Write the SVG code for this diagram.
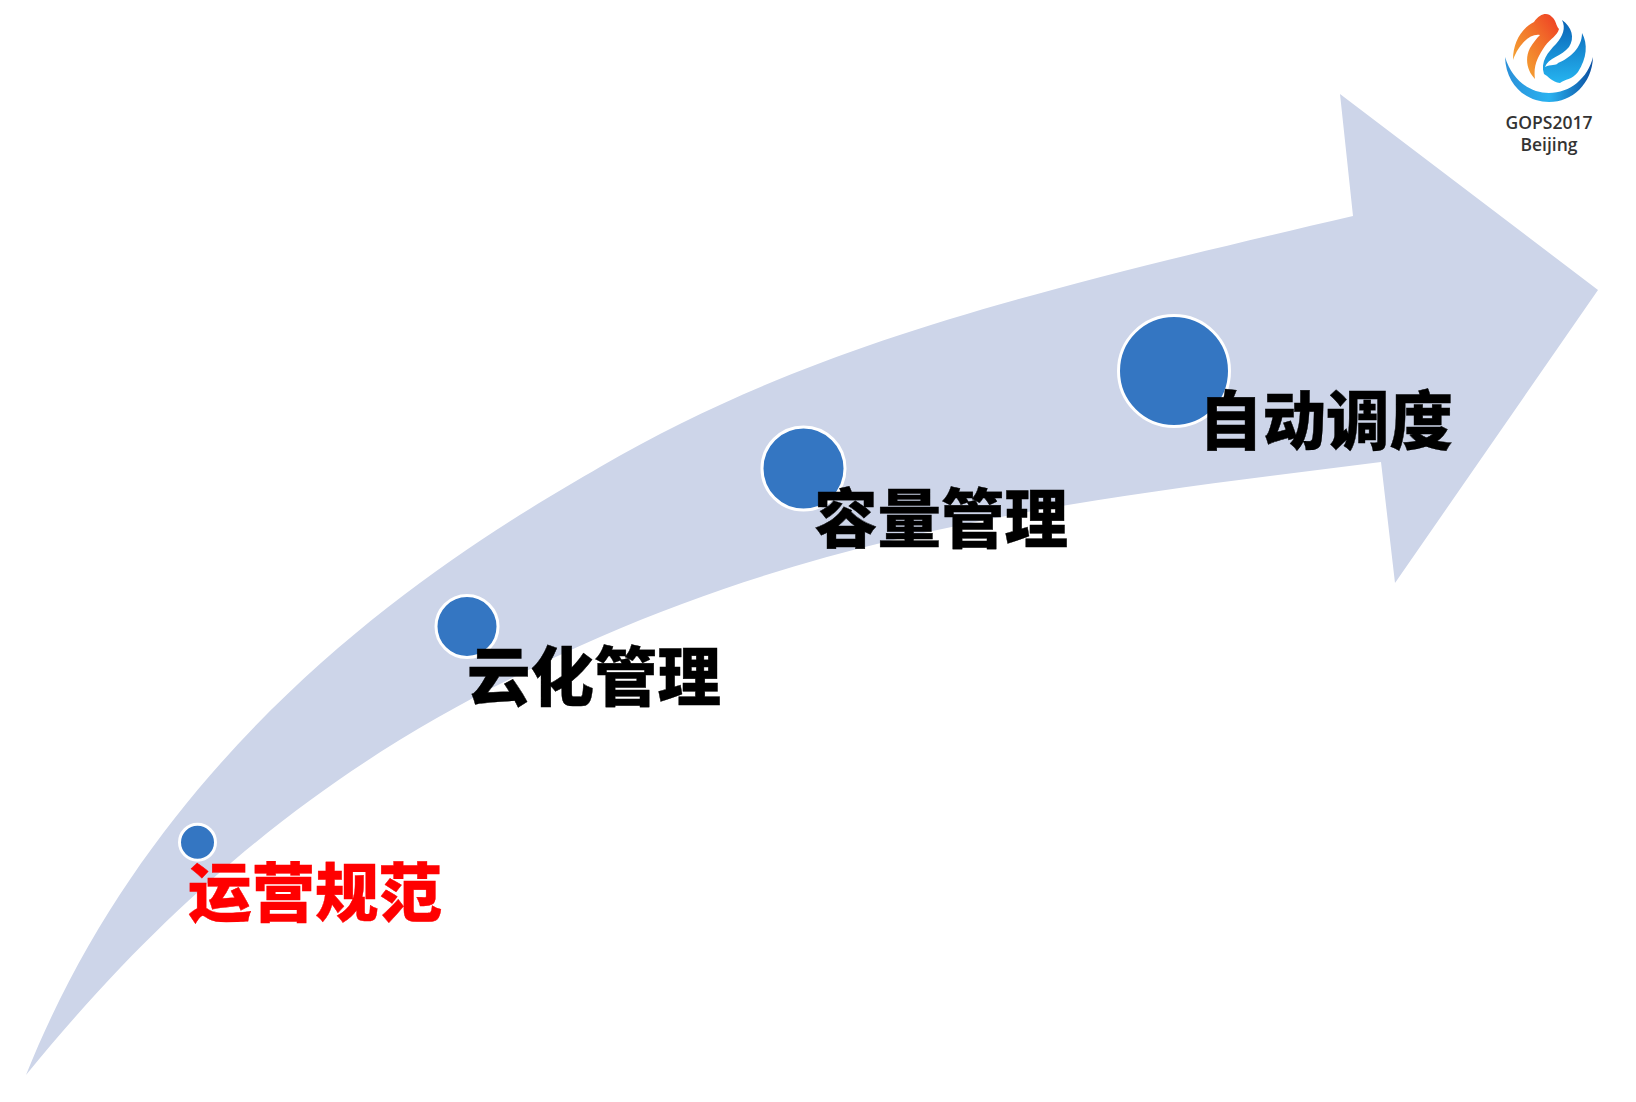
<svg xmlns="http://www.w3.org/2000/svg" width="1636" height="1102" viewBox="0 0 1636 1102">
<defs>
<style>
.dot{fill:#3476c2;stroke:#fff;stroke-width:3}
.lbl{font-family:"Noto Sans CJK SC","Noto Sans CJK JP",sans-serif;font-weight:900;font-size:63.500px;stroke-width:.4}
.logo{font-family:"Open Sans","Noto Sans",sans-serif;font-size:17.500px;fill:#333;text-anchor:middle;font-weight:600}
</style>
<linearGradient id="o" x1="0" y1="1" x2="1" y2="0"><stop offset="0" stop-color="#f5b335"/><stop offset=".6" stop-color="#f2702a"/><stop offset="1" stop-color="#ee3a24"/></linearGradient>
<linearGradient id="b" x1="0" y1="0" x2="1" y2="0"><stop offset="0" stop-color="#2b8fd8"/><stop offset=".5" stop-color="#29b2f0"/><stop offset="1" stop-color="#0c4fa0"/></linearGradient>
<linearGradient id="c" x1="0" y1="0" x2="0" y2="1"><stop offset="0" stop-color="#0a62b5"/><stop offset="1" stop-color="#25b4f0"/></linearGradient>
</defs>
<g id="connectors">
<path id="arrow" fill="#cdd5e9" d="M26 1075C170 715 480 537 600 467C800 351 1000 298 1353 216L1340 94L1598 290L1395 583L1381 462C1121 494.500 860 523 600 637C430 712 236 817 26 1075Z"/>
</g>
<g id="node-1"><circle class="dot" cx="197.500" cy="842.300" r="18"/><text class="lbl" x="188" y="916" fill="#ff0000" stroke="#ff0000">运营规范</text></g>
<g id="node-2"><circle class="dot" cx="467" cy="626.500" r="31"/><text class="lbl" x="467" y="700" fill="#000" stroke="#000">云化管理</text></g>
<g id="node-3"><circle class="dot" cx="803.500" cy="468.500" r="41.500"/><text class="lbl" x="814" y="542" fill="#000" stroke="#000">容量管理</text></g>
<g id="node-4"><circle class="dot" cx="1174" cy="371" r="55.500"/><text class="lbl" x="1199" y="444" fill="#000" stroke="#000">自动调度</text></g>
<g id="logo">
<path fill="url(#o)" d="M1513 60C1513 42 1522 28 1534 22C1540 13 1548 12 1552 17C1556 20 1556 26 1559 29C1557 36 1551 38 1545 46C1538 56 1533 66 1535 79C1528 72 1524 60 1530 48C1533 43 1537 38 1540 35C1530 33 1518 45 1513 60Z"/>
<path fill="url(#c)" d="M1562 20C1572 27 1575 38 1569 47C1562 56 1548 58 1545 67C1551 64 1556 66 1558 63C1570 58 1582 48 1582 33C1588 44 1587 58 1578 72C1572 80 1565 79 1560 83C1552 82 1548 76 1544 74C1540 62 1548 52 1556 44C1563 36 1566 28 1562 20Z"/>
<path fill="url(#b)" d="M1505 57C1506 86 1527 102 1549 102C1572 102 1592 84 1593 57C1588 78 1570 93 1549 93C1530 93 1512 80 1505 57Z"/>
<text class="logo" x="1549" y="129">GOPS2017</text>
<text class="logo" x="1549" y="151">Beijing</text>
</g>
</svg>
